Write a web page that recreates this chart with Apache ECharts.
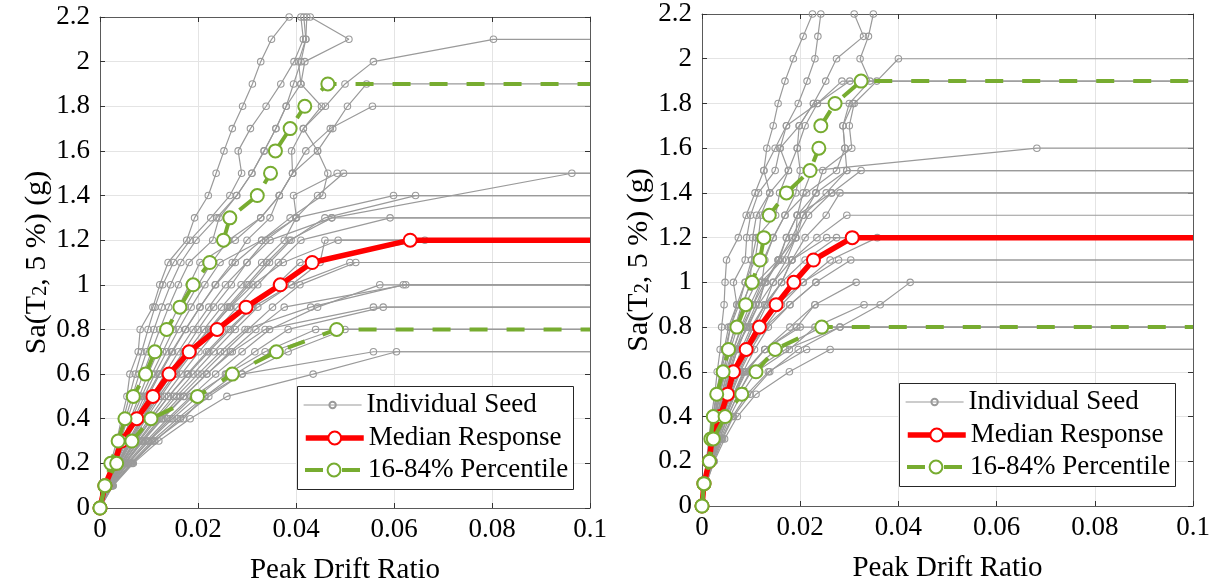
<!DOCTYPE html>
<html>
<head>
<meta charset="utf-8">
<script src="https://cdn.jsdelivr.net/npm/echarts@6/dist/echarts.min.js"></script>
<style>
html, body { margin: 0; padding: 0; background: #ffffff; }
#chart { width: 1218px; height: 584px; }
</style>
</head>
<body>
<div id="chart"></div>
<script>
// Intensity levels of the incremental dynamic analysis, Sa(T2, 5%) in g
const SA_LEVELS = [0, 0.1, 0.2, 0.3, 0.4, 0.5, 0.6, 0.7, 0.8, 0.9, 1.0, 1.1,
                   1.2, 1.3, 1.4, 1.5, 1.6, 1.7, 1.8, 1.9, 2.0, 2.1, 2.2];
const DRIFT_MAX = 0.1;   // right end of the drift axis (collapse plateau)
const SA_MAX = 2.2;

// Peak drift ratio of each ground-motion seed at each Sa level (null = level not run)
const leftSeeds = [
  [0, .0010, .0022, .0034, .0044, .0055, .0061, .0078, .0082, .0108, .0122, .0139, .0177, .0193, .0221, .0237, .0253, .0270, .0291, .0311, .0328, .0350, .0386],
  [0, .0011, .0025, .0037, .0048, .0060, .0072, .0085, .0098, .0112, .0128, .0150, .0184, .0226, .0265, .0289, .0282, .0307, .0339, .0369, .0396, .0415, .0410],
  [0, .0012, .0027, .0040, .0052, .0066, .0080, .0095, .0110, .0126, .0144, .0165, .0196, .0238, .0279, .0310, .0335, .0359, .0380, .0395, .0410, .0420, .0422],
  [0, .0012, .0028, .0042, .0056, .0072, .0088, .0105, .0122, .0140, .0160, .0182, .0230, .0243, .0279, .0310, .0335, .0359, .0380, .0410, .0418, .0508, .0429],
  [0, .0013, .0030, .0046, .0062, .0080, .0098, .0118, .0138, .0160, .0182, .0204, .0276, .0328, .0366, .0393, .0391, .0415, .0452, .0410, .0405, .0420, .0416],
  [0, .0013, .0030, .0047, .0065, .0085, .0106, .0128, .0150, .0174, .0200, .0228, .0262, .0328, .0366, .0393, .0444, .0415, .0460, .0500, .0558, .0803],
  [0, .0014, .0032, .0050, .0070, .0090, .0112, .0136, .0160, .0186, .0214, .0245, .0330, .0388, .0454, .0465, .0444, .0475, .0505, .0544],
  [0, .0015, .0034, .0054, .0076, .0098, .0122, .0148, .0175, .0204, .0235, .0270, .0300, .0347, .0366, .0393, .0420, .0470, .0556],
  [0, .0015, .0036, .0058, .0082, .0106, .0132, .0160, .0190, .0222, .0256, .0300, .0347, .0473, null, .0963],
  [0, .0014, .0033, .0052, .0073, .0095, .0120, .0146, .0174, .0204, .0236, .0276, .0330, .0401, .0395, .0484],
  [0, .0016, .0037, .0060, .0085, .0112, .0140, .0170, .0200, .0232, .0268, .0300, .0338, .0400, .0444, .0497],
  [0, .0016, .0038, .0062, .0088, .0116, .0146, .0178, .0212, .0248, .0288, .0330, .0376, .0400, .0599],
  [0, .0017, .0040, .0066, .0094, .0124, .0156, .0190, .0226, .0264, .0304, .0346, .0390, .0459, .0644],
  [0, .0017, .0042, .0070, .0100, .0132, .0166, .0202, .0240, .0280, .0322, .0364, .0410, .0592],
  [0, .0016, .0039, .0064, .0090, .0120, .0152, .0186, .0222, .0260, .0300, .0340, .0386, .0473],
  [0, .0018, .0044, .0074, .0106, .0140, .0178, .0218, .0262, .0310, .0360, .0408, .0663],
  [0, .0015, .0036, .0060, .0086, .0114, .0146, .0182, .0222, .0266, .0312, .0374, .0486],
  [0, .0019, .0046, .0078, .0112, .0150, .0190, .0232, .0276, .0322, .0391, .0449, .0459],
  [0, .0020, .0050, .0084, .0122, .0164, .0208, .0254, .0302, .0352, .0408, .0522],
  [0, .0018, .0043, .0072, .0104, .0140, .0180, .0222, .0266, .0312, .0391, .0510],
  [0, .0021, .0052, .0088, .0128, .0172, .0218, .0266, .0318, .0376, .0624],
  [0, .0019, .0047, .0080, .0116, .0156, .0200, .0246, .0296, .0430, .0619],
  [0, .0022, .0055, .0094, .0138, .0186, .0236, .0290, .0346, .0444, .0571],
  [0, .0023, .0058, .0100, .0148, .0200, .0256, .0316, .0384, .0578],
  [0, .0020, .0050, .0086, .0126, .0170, .0218, .0270, .0337, .0558],
  [0, .0024, .0062, .0106, .0158, .0214, .0276, .0350, .0480],
  [0, .0022, .0057, .0098, .0143, .0190, .0259, .0337, .0440],
  [0, .0026, .0066, .0112, .0164, .0222, .0290, .0384, .0500],
  [0, .0027, .0068, .0120, .0184, .0259, .0435, .0605],
  [0, .0025, .0064, .0110, .0170, .0214, .0290, .0558]
];
const leftMedian = [0, .0010, .0029, .0044, .0075, .0108, .0141, .0182, .0239, .0298, .0368, .0433, .0633];
const leftPct16  = [0, .0010, .0022, .0037, .0051, .0068, .0093, .0112, .0136, .0163, .0190, .0224, .0252, .0265, .0321, .0348, .0358, .0388, .0418, .0465];
const leftPct84  = [0, .0010, .0034, .0065, .0104, .0199, .0270, .0360, .0483];

const rightSeeds = [
  [0, .0004, .0009, .0014, .0019, .0026, .0031, .0037, .0040, .0045, .0047, .0050, .0074, .0090, .0108, .0126, .0132, .0145, .0155, .0169, .0186, .0206, .0225],
  [0, .0004, .0011, .0017, .0023, .0030, .0038, .0045, .0054, .0071, .0064, .0088, .0091, .0099, .0115, .0149, .0159, .0172, .0196, .0214, .0230, .0236, .0242],
  [0, .0005, .0012, .0019, .0026, .0034, .0043, .0054, .0068, .0084, .0098, .0101, .0103, .0111, .0138, .0176, .0194, .0198, .0227, .0252, .0274, .0329, .0310],
  [0, .0005, .0013, .0020, .0028, .0037, .0048, .0064, .0081, .0104, .0122, .0128, .0145, .0169, .0213, .0274, .0291, .0287, .0300, .0342, .0322, .0339, .0349],
  [0, .0005, .0014, .0022, .0031, .0041, .0052, .0066, .0094, .0115, .0128, .0155, .0172, .0194, .0232, .0246, .0305, .0300, .0310, .0356, .0400],
  [0, .0004, .0010, .0016, .0023, .0030, .0039, .0050, .0058, .0075, .0088, .0108, .0115, .0120, .0138, .0126, .0149, .0172, .0235, .0301],
  [0, .0005, .0012, .0018, .0025, .0033, .0043, .0054, .0067, .0081, .0101, .0125, .0145, .0169, .0191, .0200, .0194, .0210, .0235, .0285],
  [0, .0006, .0014, .0022, .0032, .0043, .0055, .0069, .0085, .0104, .0128, .0157, .0183, .0206, .0253, .0295, .0291, .0287, .0307],
  [0, .0004, .0010, .0016, .0022, .0029, .0037, .0047, .0058, .0071, .0088, .0101, .0111, .0150, .0158, .0176, .0159, .0198, .0227],
  [0, .0006, .0015, .0024, .0034, .0046, .0058, .0072, .0090, .0110, .0130, .0157, .0172, .0194, .0206, .0224, .0682],
  [0, .0006, .0016, .0026, .0037, .0050, .0064, .0080, .0100, .0128, .0145, .0172, .0191, .0217, .0264, .0324],
  [0, .0005, .0013, .0021, .0030, .0040, .0051, .0064, .0079, .0098, .0120, .0164, .0191, .0206, .0232, .0295],
  [0, .0006, .0016, .0027, .0039, .0052, .0067, .0084, .0104, .0128, .0162, .0183, .0210, .0253, .0281],
  [0, .0005, .0012, .0019, .0027, .0036, .0046, .0058, .0072, .0088, .0111, .0155, .0191, .0194, .0264],
  [0, .0006, .0017, .0028, .0040, .0054, .0070, .0088, .0110, .0132, .0162, .0183, .0234, .0295],
  [0, .0007, .0018, .0030, .0044, .0060, .0078, .0100, .0128, .0162, .0206, .0261, .0357],
  [0, .0006, .0016, .0026, .0038, .0051, .0066, .0084, .0104, .0128, .0162, .0210, .0274],
  [0, .0005, .0014, .0023, .0033, .0044, .0057, .0072, .0091, .0115, .0145, .0183, .0254],
  [0, .0007, .0019, .0032, .0047, .0064, .0084, .0107, .0135, .0179, .0232, .0303],
  [0, .0006, .0017, .0029, .0043, .0058, .0076, .0096, .0120, .0152, .0206, .0278],
  [0, .0008, .0021, .0036, .0053, .0073, .0100, .0170, .0281, .0363, .0424],
  [0, .0007, .0019, .0033, .0049, .0068, .0090, .0128, .0193, .0230, .0314],
  [0, .0006, .0017, .0028, .0041, .0056, .0073, .0094, .0128, .0179, .0232],
  [0, .0008, .0022, .0038, .0057, .0080, .0110, .0178, .0230, .0330],
  [0, .0007, .0019, .0032, .0047, .0066, .0088, .0128, .0179, .0230],
  [0, .0009, .0024, .0042, .0064, .0098, .0138, .0196, .0281],
  [0, .0007, .0020, .0035, .0052, .0073, .0098, .0152, .0244],
  [0, .0006, .0017, .0030, .0046, .0064, .0086, .0128, .0200],
  [0, .0009, .0025, .0046, .0072, .0110, .0178, .0261],
  [0, .0008, .0022, .0040, .0062, .0092, .0135, .0213]
];
const rightMedian = [0, .0004, .0015, .0020, .0037, .0052, .0064, .0090, .0117, .0151, .0187, .0227, .0306];
const rightPct16  = [0, .0004, .0015, .0018, .0023, .0030, .0043, .0054, .0071, .0089, .0102, .0118, .0126, .0137, .0172, .0220, .0238, .0242, .0271, .0324];
const rightPct84  = [0, .0004, .0015, .0023, .0047, .0081, .0110, .0149, .0244];

const FONT = 'Liberation Serif';
const GRAY = '#9a9a9a';
const RED = '#ff0000';
const GREEN = '#77ac30';
const AXIS_COLOR = '#5a5a5a';
const GRID_COLOR = '#e4e4e4';

// Turn a drift-per-level list into [drift, Sa] points; a seed that stops
// short of the top level has collapsed, so its curve runs flat to the edge.
function toPoints(drifts) {
  const pts = [];
  drifts.forEach(function (d, i) {
    if (d !== null) pts.push([d, SA_LEVELS[i]]);
  });
  const last = pts[pts.length - 1];
  if (last[1] < SA_MAX - 1e-9) {
    pts.push({ value: [DRIFT_MAX, last[1]], symbol: 'none' });
  }
  return pts;
}

function seedSeries(drifts, ax) {
  return {
    type: 'line', name: 'Individual Seed', xAxisIndex: ax, yAxisIndex: ax,
    data: toPoints(drifts), symbol: 'circle', symbolSize: 6.5,
    lineStyle: { color: GRAY, width: 1.2 },
    itemStyle: { color: 'rgba(255,255,255,0)', borderColor: GRAY, borderWidth: 1.1 },
    z: 2, silent: true, emphasis: { disabled: true }
  };
}

function medianSeries(drifts, ax) {
  return {
    type: 'line', name: 'Median Response', xAxisIndex: ax, yAxisIndex: ax,
    data: toPoints(drifts), symbol: 'emptyCircle', symbolSize: 13,
    lineStyle: { color: RED, width: 5.5 },
    itemStyle: { color: RED, borderWidth: 2 },
    z: 3, silent: true, emphasis: { disabled: true }
  };
}

function pctSeries(drifts, ax) {
  return {
    type: 'line', name: '16-84% Percentile', xAxisIndex: ax, yAxisIndex: ax,
    data: toPoints(drifts), symbol: 'emptyCircle', symbolSize: 13,
    lineStyle: { color: GREEN, width: 4, type: [18, 19] },
    itemStyle: { color: GREEN, borderWidth: 2 },
    z: 4, silent: true, emphasis: { disabled: true }
  };
}

const tickFmt = function (v) { return String(parseFloat(v.toFixed(3))); };

function xAxesFor(grid) {
  return [{
    type: 'value', gridIndex: grid, min: 0, max: DRIFT_MAX, interval: 0.02, position: 'bottom',
    axisLine: { show: true, onZero: false, lineStyle: { color: AXIS_COLOR, width: 1 } },
    axisTick: { show: true, inside: true, length: 5, lineStyle: { color: '#333' } },
    axisLabel: { color: '#000', fontFamily: FONT, fontSize: 27, margin: 8, formatter: tickFmt },
    splitLine: { show: true, lineStyle: { color: GRID_COLOR, width: 1 } },
    name: 'Peak Drift Ratio', nameLocation: 'middle', nameGap: 48,
    nameTextStyle: { color: '#000', fontFamily: FONT, fontSize: 29 }
  }, {
    type: 'value', gridIndex: grid, min: 0, max: DRIFT_MAX, interval: 0.02, position: 'top',
    axisLine: { show: true, onZero: false, lineStyle: { color: AXIS_COLOR, width: 1 } },
    axisTick: { show: true, inside: true, length: 5, lineStyle: { color: '#333' } },
    axisLabel: { show: false }, splitLine: { show: false }
  }];
}

function yAxesFor(grid, gap) {
  return [{
    type: 'value', gridIndex: grid, min: 0, max: SA_MAX, interval: 0.2, position: 'left',
    axisLine: { show: true, onZero: false, lineStyle: { color: AXIS_COLOR, width: 1 } },
    axisTick: { show: true, inside: true, length: 5, lineStyle: { color: '#333' } },
    axisLabel: { color: '#000', fontFamily: FONT, fontSize: 27, margin: 10, formatter: tickFmt },
    splitLine: { show: true, lineStyle: { color: GRID_COLOR, width: 1 } },
    name: '{n|Sa(T}{s|2}{n|, 5 %) (g)}', nameLocation: 'middle', nameGap: gap, nameRotate: 90,
    nameTextStyle: {
      color: '#000', fontFamily: FONT, fontSize: 30,
      rich: {
        n: { fontFamily: FONT, fontSize: 30, color: '#000', padding: [0, 0, 6, 0] },
        s: { fontFamily: FONT, fontSize: 20, color: '#000' }
      }
    }
  }, {
    type: 'value', gridIndex: grid, min: 0, max: SA_MAX, interval: 0.2, position: 'right',
    axisLine: { show: true, onZero: false, lineStyle: { color: AXIS_COLOR, width: 1 } },
    axisTick: { show: true, inside: true, length: 5, lineStyle: { color: '#333' } },
    axisLabel: { show: false }, splitLine: { show: false }
  }];
}

function legendRow(name, left, top, itemHeight, lineWidth) {
  return {
    show: true, data: [name], left: left, top: top, orient: 'horizontal', padding: 0,
    itemWidth: 58, itemHeight: itemHeight, itemGap: 0, selectedMode: false,
    textStyle: { color: '#000', fontFamily: FONT, fontSize: 27, lineHeight: 30 },
    lineStyle: { width: lineWidth }, z: 12
  };
}

function legendBlock(boxLeft, boxTop) {
  const rowTop = boxTop + 4;
  return [
    legendRow('Individual Seed', boxLeft + 6, rowTop, 8, 1.2),
    legendRow('Median Response', boxLeft + 6, rowTop + 33, 16, 5.5),
    legendRow('16-84% Percentile', boxLeft + 6, rowTop + 65, 16, 4)
  ];
}

const series = [];
leftSeeds.forEach(function (s) { series.push(seedSeries(s, 0)); });
rightSeeds.forEach(function (s) { series.push(seedSeries(s, 2)); });
series.push(medianSeries(leftMedian, 0));
series.push(medianSeries(rightMedian, 2));
series.push(pctSeries(leftPct16, 0));
series.push(pctSeries(leftPct84, 0));
series.push(pctSeries(rightPct16, 2));
series.push(pctSeries(rightPct84, 2));

const chart = echarts.init(document.getElementById('chart'), null, { renderer: 'canvas' });
chart.setOption({
  animation: false,
  backgroundColor: '#ffffff',
  grid: [
    { left: 100, top: 17, width: 490, height: 491, outerBoundsMode: 'none', containLabel: false },
    { left: 702, top: 14, width: 491, height: 492, outerBoundsMode: 'none', containLabel: false }
  ],
  xAxis: xAxesFor(0).concat(xAxesFor(1)),
  yAxis: yAxesFor(0, 39).concat(yAxesFor(1, 37)),
  legend: legendBlock(297, 386).concat(legendBlock(899, 383)),
  graphic: [
    { type: 'rect', z: 10, shape: { x: 297.5, y: 386.5, width: 276, height: 103 },
      style: { fill: '#ffffff', stroke: '#262626', lineWidth: 1 } },
    { type: 'rect', z: 10, shape: { x: 899.5, y: 383.5, width: 276, height: 103 },
      style: { fill: '#ffffff', stroke: '#262626', lineWidth: 1 } }
  ],
  series: series
});
</script>
</body>
</html>
